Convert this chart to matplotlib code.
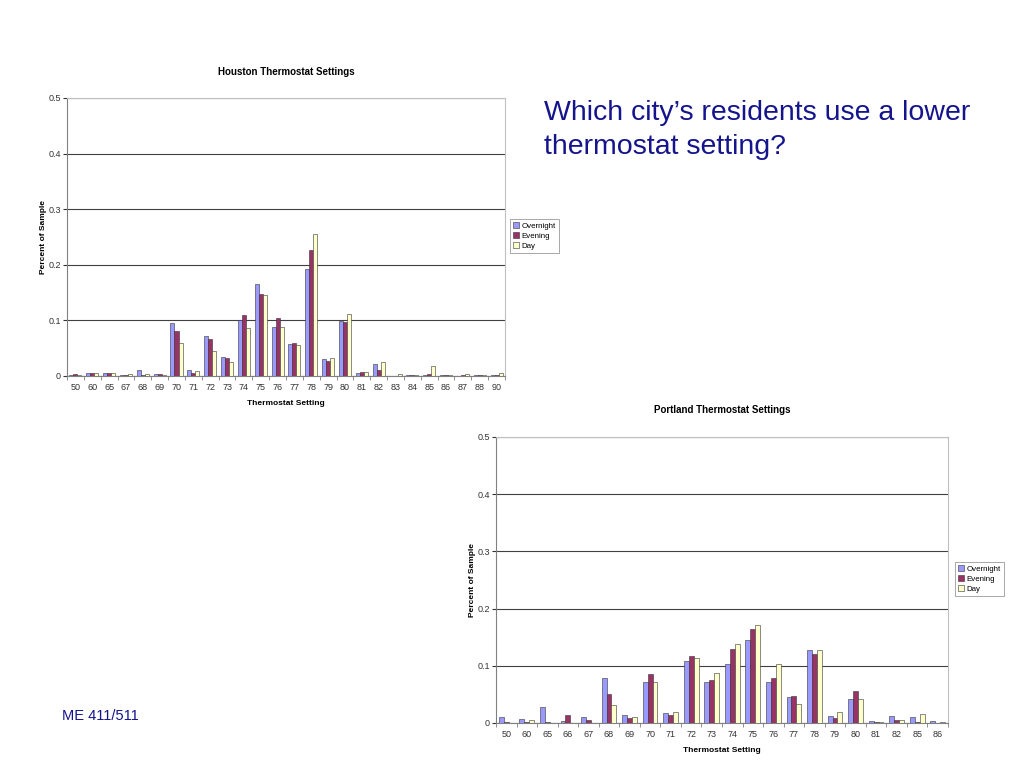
import numpy as np
import matplotlib
matplotlib.use("Agg")
import matplotlib.pyplot as plt

plt.rcParams["font.family"] = ["Liberation Sans", "DejaVu Sans"]

# ── Houston data ──
houston_temps = ["50", "60", "65", "67", "68", "69", "70", "71", "72", "73", "74", "75", "76",
                 "77", "78", "79", "80", "81", "82", "83", "84", "85", "86", "87", "88", "90"]
houston_overnight = [0.002, 0.006, 0.006, 0.001, 0.011, 0.004, 0.096, 0.011, 0.072, 0.034, 0.100, 0.165, 0.088,
                     0.058, 0.192, 0.031, 0.099, 0.005, 0.022, 0.000, 0.002, 0.002, 0.001, 0.000, 0.001, 0.001]
houston_evening = [0.004, 0.006, 0.006, 0.002, 0.001, 0.004, 0.081, 0.005, 0.066, 0.032, 0.109, 0.148, 0.104,
                   0.060, 0.226, 0.027, 0.097, 0.007, 0.011, 0.000, 0.002, 0.004, 0.001, 0.002, 0.001, 0.002]
houston_day = [0.002, 0.006, 0.006, 0.004, 0.004, 0.002, 0.059, 0.009, 0.045, 0.025, 0.086, 0.146, 0.089,
               0.055, 0.256, 0.033, 0.111, 0.007, 0.025, 0.004, 0.001, 0.018, 0.001, 0.004, 0.001, 0.005]

# ── Portland data ──
portland_temps = ["50", "60", "65", "66", "67", "68", "69", "70", "71", "72", "73", "74", "75",
                  "76", "77", "78", "79", "80", "81", "82", "85", "86"]
portland_overnight = [0.0105, 0.007, 0.028, 0.003, 0.0105, 0.078, 0.014, 0.071, 0.018, 0.109, 0.071, 0.103, 0.145,
                      0.071, 0.045, 0.127, 0.013, 0.042, 0.003, 0.013, 0.0105, 0.003]
portland_evening = [0.002, 0.002, 0.002, 0.014, 0.005, 0.050, 0.009, 0.086, 0.014, 0.117, 0.076, 0.129, 0.164,
                    0.079, 0.047, 0.121, 0.008, 0.056, 0.002, 0.005, 0.002, 0.000]
portland_day = [0.000, 0.005, 0.000, 0.000, 0.000, 0.032, 0.0105, 0.071, 0.019, 0.114, 0.087, 0.138, 0.172,
                0.103, 0.034, 0.127, 0.019, 0.042, 0.002, 0.005, 0.016, 0.002]

SERIES = ["Overnight", "Evening", "Day"]
COLORS = ["#9999FF", "#993366", "#FFFFCC"]
NAVY = "#14148C"


def draw_chart(fig, rect, title, temps, series, legend_anchor, title_pad):
    ax = fig.add_axes(rect)
    x = np.arange(len(temps))
    w = 0.24
    handles = []
    for i, (vals, name, col) in enumerate(zip(series, SERIES, COLORS)):
        h = ax.bar(x + (i - 1) * w, vals, width=w, color=col, edgecolor="#333333",
                   linewidth=0.4, label=name, zorder=3)
        handles.append(h)

    ax.set_xlim(-0.5, len(temps) - 0.5)
    ax.set_ylim(0, 0.5)
    ax.set_yticks([0, 0.1, 0.2, 0.3, 0.4, 0.5])
    ax.set_yticklabels(["0", "0.1", "0.2", "0.3", "0.4", "0.5"])
    ax.yaxis.grid(True, color="#404040", linewidth=0.8, zorder=0)

    # category labels centred, tick marks between categories (Excel style)
    ax.set_xticks(x)
    ax.set_xticklabels(temps)
    ax.set_xticks(np.arange(len(temps) + 1) - 0.5, minor=True)
    ax.tick_params(axis="x", which="major", length=0, labelsize=6.5, colors="#333333", pad=5)
    ax.tick_params(axis="x", which="minor", length=3, color="#808080")
    ax.tick_params(axis="y", length=3, labelsize=6.5, colors="#333333", pad=1.5)

    for side in ["top", "right"]:
        ax.spines[side].set_color("#C0C0C0")
        ax.spines[side].set_linewidth(0.8)
    for side in ["left", "bottom"]:
        ax.spines[side].set_color("#808080")
        ax.spines[side].set_linewidth(0.8)

    ax.set_title(title, fontsize=7, fontweight="bold", pad=title_pad)
    ax.set_xlabel("Thermostat Setting", fontsize=6, fontweight="bold", labelpad=6)
    ax.set_ylabel("Percent of Sample", fontsize=6, fontweight="bold", labelpad=1)

    leg = fig.legend(handles, SERIES, loc="upper left", bbox_to_anchor=legend_anchor,
                     fontsize=5.7, frameon=True, fancybox=False, handlelength=0.8,
                     handleheight=0.8, handletextpad=0.3, borderpad=0.35, labelspacing=0.3,
                     borderaxespad=0)
    leg.get_frame().set_edgecolor("#808080")
    leg.get_frame().set_linewidth(0.6)
    return ax


fig = plt.figure(figsize=(10.24, 7.68), dpi=100)

draw_chart(fig, [67 / 1024, 1 - 376 / 768, 438 / 1024, 278 / 768],
           "Houston Thermostat Settings", houston_temps,
           [houston_overnight, houston_evening, houston_day],
           (510 / 1024, 1 - 219 / 768), 16.5)

draw_chart(fig, [496 / 1024, 1 - 723 / 768, 452 / 1024, 286 / 768],
           "Portland Thermostat Settings", portland_temps,
           [portland_overnight, portland_evening, portland_day],
           (955 / 1024, 1 - 562 / 768), 17.5)

fig.text(544 / 1024, 1 - 130 / 768, "Which city\u2019s residents use a lower\nthermostat setting?",
         fontsize=20.5, color=NAVY, ha="left", va="center", linespacing=1.4)
fig.text(62 / 1024, 1 - 716 / 768, "ME 411/511", fontsize=10.5, color=NAVY, ha="left", va="center")

fig.savefig("out.png", dpi=100)
